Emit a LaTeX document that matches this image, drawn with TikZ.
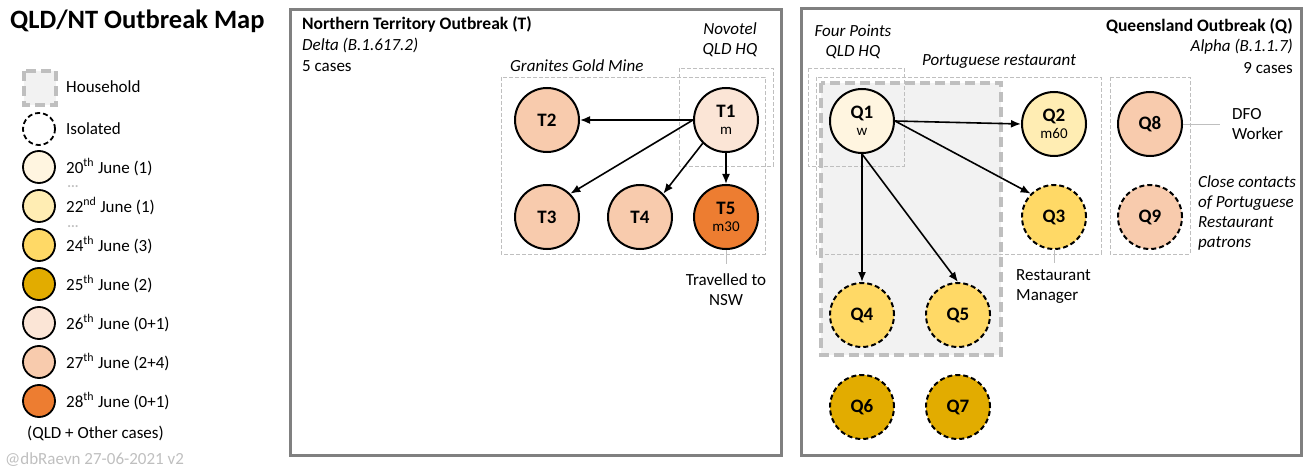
\documentclass[tikz,border=0pt]{standalone}
\usepackage{fontspec}
\setmainfont{Carlito}
\usetikzlibrary{arrows.meta}

\definecolor{dayA}{HTML}{FFF5E0}
\definecolor{dayB}{HTML}{FFEDB3}
\definecolor{dayC}{HTML}{FFD966}
\definecolor{dayD}{HTML}{E2AC00}
\definecolor{dayE}{HTML}{FBE5D6}
\definecolor{dayF}{HTML}{F8CBAD}
\definecolor{dayG}{HTML}{ED7D31}
\definecolor{boxgray}{HTML}{BFBFBF}
\definecolor{panelgray}{HTML}{808080}
\definecolor{hhfill}{HTML}{F2F2F2}

\newcommand{\body}{\fontsize{17}{20}\selectfont}
\newcommand{\headfont}{\fontsize{17.5}{20}\selectfont\bfseries}
\newcommand{\sub}[1]{\\[-3pt]{\normalfont\fontsize{15}{15}\selectfont #1}}

\tikzset{
  case/.style={circle,draw,line width=2pt,minimum size=64pt,inner sep=0pt,
    align=center,font=\bfseries\fontsize{19}{20}\selectfont},
  key/.style={circle,draw,line width=1.8pt,minimum size=32pt,inner sep=0pt},
  isolated/.style={dash pattern=on 5pt off 3pt},
  link/.style={line width=1.6pt,-{Latex[length=10pt,width=8pt]}},
  tag/.style={draw=boxgray,line width=0.8pt},
  place/.style={draw=boxgray,line width=0.8pt,dash pattern=on 4pt off 2pt},
  household/.style={draw=boxgray,fill=hhfill,line width=4pt,dash pattern=on 10pt off 5pt},
  panel/.style={draw=panelgray,line width=3pt},
  txt/.style={inner sep=0pt,font=\body,align=left},
  gap/.style={inner sep=0pt,text height=2pt,text depth=0pt,text=boxgray,
    font=\bfseries\fontsize{14}{14}\selectfont}
}

\begin{document}
\begin{tikzpicture}[x=1pt,y=-1pt]
   \useasboundingbox (0,0) rectangle (1308,473);

   % legend
   \node[inner sep=0pt,anchor=west,font=\bfseries\fontsize{26.5}{26.5}\selectfont] (title) at (10,21) {QLD/NT Outbreak Map};
   \draw[household] (24,71) rectangle (56,105);
   \node[txt,anchor=west] (lhh) at (66,87) {Household};
   \node[key,isolated] (kiso) at (39,129) {};
   \node[txt,anchor=west] (liso) at (66,129) {Isolated};
   \node[key,fill=dayA] (kA) at (39,167) {};
   \node[txt,anchor=west] (lA) at (66,167) {20\textsuperscript{th} June (1)};
   \node[gap] (dotsA) at (73,187) {...};
   \node[key,fill=dayB] (kB) at (39,206) {};
   \node[txt,anchor=west] (lB) at (66,206) {22\textsuperscript{nd} June (1)};
   \node[gap] (dotsB) at (73,226) {...};
   \node[key,fill=dayC] (kC) at (39,245) {};
   \node[txt,anchor=west] (lC) at (66,245) {24\textsuperscript{th} June (3)};
   \node[key,fill=dayD] (kD) at (39,284) {};
   \node[txt,anchor=west] (lD) at (66,284) {25\textsuperscript{th} June (2)};
   \node[key,fill=dayE] (kE) at (39,323) {};
   \node[txt,anchor=west] (lE) at (66,323) {26\textsuperscript{th} June (0+1)};
   \node[key,fill=dayF] (kF) at (39,362) {};
   \node[txt,anchor=west] (lF) at (66,362) {27\textsuperscript{th} June (2+4)};
   \node[key,fill=dayG] (kG) at (39,401) {};
   \node[txt,anchor=west] (lG) at (66,401) {28\textsuperscript{th} June (0+1)};
   \node[txt,anchor=west] (lother) at (27,433) {(QLD + Other cases)};
   \node[txt,anchor=west,text=boxgray] (credit) at (5,460) {@dbRaevn 27-06-2021 v2};

   % Northern Territory
   \draw[panel] (290,10) rectangle (781,455);
   \node[txt,anchor=west,font=\headfont] (nthead) at (302,24) {Northern Territory Outbreak (T)};
   \node[txt,anchor=west,font=\body\itshape] (ntvar) at (302,45) {Delta (B.1.617.2)};
   \node[txt,anchor=west] (ntnum) at (302,66) {5 cases};
   \draw[place] (501,77) rectangle (765,254);
   \draw[place] (679,68) rectangle (773,166);
   \node[txt,anchor=west,font=\body\itshape] (mine) at (510,66) {Granites Gold Mine};
   \node[txt,align=center,font=\body\itshape] (novotel) at (730,40) {Novotel\\QLD HQ};

   \node[case,fill=dayE] (T1) at (726,120) {T1\sub{m}};
   \node[case,fill=dayF] (T2) at (547,120) {T2};
   \node[case,fill=dayF] (T3) at (547,217) {T3};
   \node[case,fill=dayF] (T4) at (640,217) {T4};
   \node[case,fill=dayG] (T5) at (726,217) {T5\sub{m30}};

   \draw[link] (T1.west) -- (T2.east);
   \draw[link] (T1.west) -- (T3.north east);
   \draw[link] (T1.south west) -- (T4.north east);
   \draw[link] (T1.south) -- (T5.north);

   \coordinate (nswend) at (726,264);
   \draw[tag] (T5.south) -- (nswend);
   \node[txt,align=center,anchor=north] (nsw) at (726,273) {Travelled to\\NSW};

   % Queensland
   \draw[panel] (801,9) rectangle (1301,455);
   \node[txt,anchor=east,font=\headfont] (qhead) at (1293,26) {Queensland Outbreak (Q)};
   \node[txt,anchor=east,font=\body\itshape] (qvar) at (1293,47) {Alpha (B.1.1.7)};
   \node[txt,anchor=east] (qnum) at (1293,68) {9 cases};
   \draw[household] (821,83) rectangle (1001,355);
   \draw[place] (816,77) rectangle (1101,254);
   \draw[place] (808,68) rectangle (904,166);
   \draw[place] (1110,77) rectangle (1190,254);
   \node[txt,align=center,font=\body\itshape] (fourpts) at (853,42) {Four Points\\QLD HQ};
   \node[txt,anchor=west,font=\body\itshape] (resto) at (922,62) {Portuguese restaurant};

   \node[case,fill=dayA] (Q1) at (862,121) {Q1\sub{w}};
   \node[case,fill=dayB] (Q2) at (1054,124) {Q2\sub{m60}};
   \node[case,fill=dayC,isolated] (Q3) at (1054,217) {Q3};
   \node[case,fill=dayC,isolated] (Q4) at (862,315) {Q4};
   \node[case,fill=dayC,isolated] (Q5) at (958,315) {Q5};
   \node[case,fill=dayD,isolated] (Q6) at (862,407) {Q6};
   \node[case,fill=dayD,isolated] (Q7) at (958,407) {Q7};
   \node[case,fill=dayF] (Q8) at (1150,124) {Q8};
   \node[case,fill=dayF,isolated] (Q9) at (1150,217) {Q9};

   \draw[link] (Q1.east) -- (Q2.west);
   \draw[link] (Q1.east) -- (Q3.north west);
   \draw[link] (Q1.south) -- (Q4.north);
   \draw[link] (Q1.south) -- (Q5.north);

   \coordinate (mgrend) at (1054,263);
   \draw[tag] (Q3.south) -- (mgrend);
   \node[txt,anchor=north west] (mgr) at (1016,269) {Restaurant\\Manager};
   \coordinate (dfoend) at (1220,124);
   \draw[tag] (Q8.east) -- (dfoend);
   \node[txt,anchor=west] (dfo) at (1232,124) {DFO\\Worker};
   \node[txt,anchor=west,font=\body\itshape] (contacts) at (1198,213) {Close contacts\\of Portuguese\\Restaurant\\patrons};
\end{tikzpicture}
\end{document}
